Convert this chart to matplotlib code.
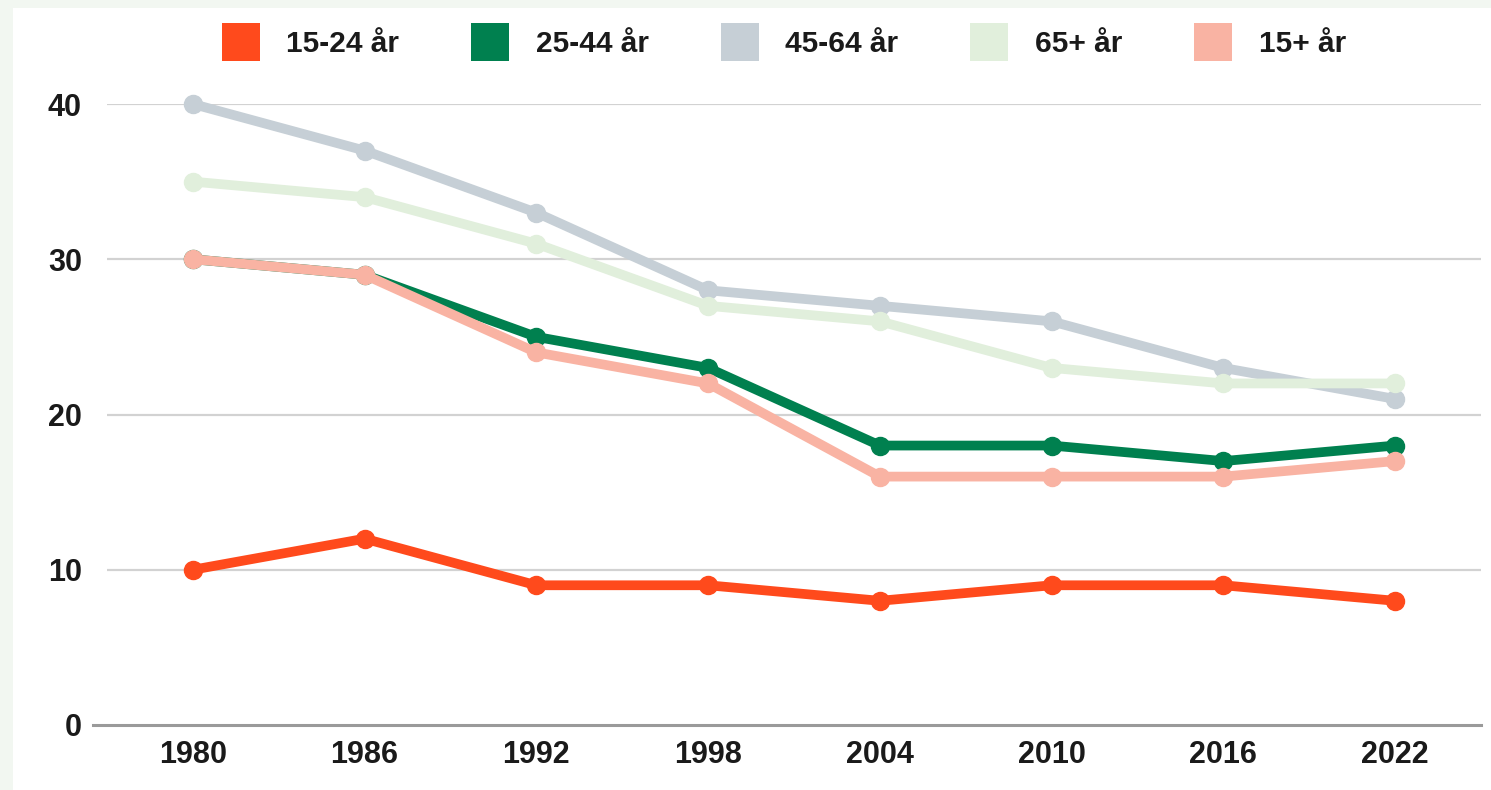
import matplotlib.pyplot as plt
from matplotlib.lines import Line2D
from matplotlib.patches import Rectangle

# data
years = [1980, 1986, 1992, 1998, 2004, 2010, 2016, 2022]
age_15_24 = [10, 12, 9, 9, 8, 9, 9, 8]
age_25_44 = [30, 29, 25, 23, 18, 18, 17, 18]
age_45_64 = [40, 37, 33, 28, 27, 26, 23, 21]
age_65_plus = [35, 34, 31, 27, 26, 23, 22, 22]
age_15_plus = [30, 29, 24, 22, 16, 16, 16, 17]

labels = ["15-24 år", "25-44 år", "45-64 år", "65+ år", "15+ år"]
colors = ["#ff4a1c", "#00804f", "#c6cfd6", "#e1efdc", "#f9b3a3"]
y_ticks = [0, 10, 20, 30, 40]

plt.rcParams["font.family"] = ["Liberation Sans", "DejaVu Sans"]

fig = plt.figure(figsize=(14.91, 7.90), dpi=100)
fig.patch.set_facecolor("#f2f7f1")
# white panel behind everything
fig.patches.append(Rectangle((13 / 1491, 0), 1, 1 - 8 / 790, transform=fig.transFigure,
                             facecolor="white", edgecolor="none", zorder=-5))

ax = fig.add_axes([107 / 1491, 1 - 725 / 790, (1481 - 107) / 1491, (725 - 104) / 790])
ax.set_facecolor("none")

series = [age_15_24, age_25_44, age_45_64, age_65_plus, age_15_plus]
for i, (vals, col, lab) in enumerate(zip(series, colors, labels)):
    ax.plot(years, vals, color=col, lw=7, marker="o", markersize=13,
            solid_capstyle="round", label=lab, zorder=3 + i, clip_on=False)

ax.set_xlim(1977, 2025)
ax.set_ylim(0, 40)
ax.set_xticks(years)
ax.set_yticks(y_ticks)
ax.tick_params(length=0, labelsize=22)
ax.tick_params(axis="y", pad=18)
ax.tick_params(axis="x", pad=11)
for t in ax.get_xticklabels() + ax.get_yticklabels():
    t.set_fontweight("bold")
    t.set_color("#1a1a1a")

for y in y_ticks[1:]:
    ax.axhline(y, color="#d2d2d2", lw=1.6, zorder=1)
# baseline runs a bit further left than the grid
ax.plot([-0.01, 1], [0, 0], transform=ax.transAxes, color="#9a9a9a", lw=2.2,
        clip_on=False, zorder=2)

for s in ax.spines.values():
    s.set_visible(False)

handles = [Line2D([], [], ls="none", marker="s", markersize=27, color=c,
                  markeredgewidth=0) for c in colors]
leg = fig.legend(handles, labels, loc="center", bbox_to_anchor=(784 / 1491, 1 - 44 / 790),
                 ncol=5, frameon=False, handlelength=1.25, handletextpad=0.9,
                 columnspacing=2.42, prop={"size": 21.5, "weight": "bold"})
for t in leg.get_texts():
    t.set_color("#1a1a1a")

fig.savefig("out.png", dpi=100, facecolor=fig.get_facecolor())
